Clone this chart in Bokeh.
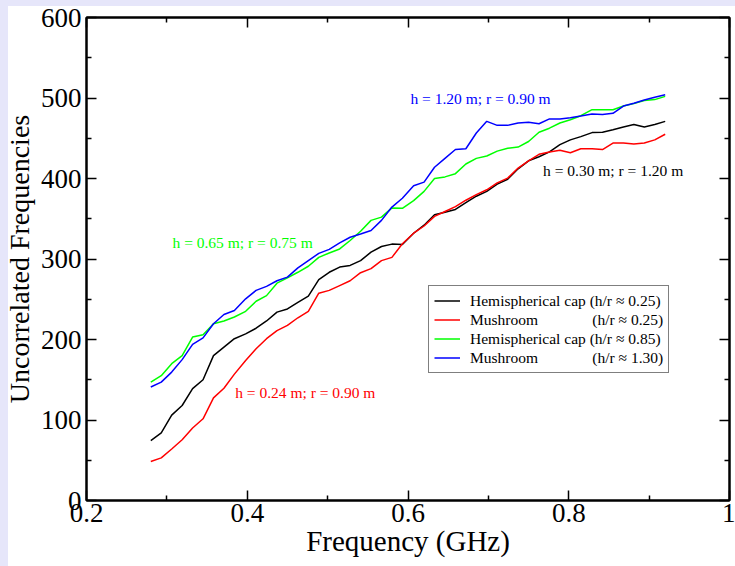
from bokeh.plotting import figure
from bokeh.models import (FixedTicker, LinearAxis, Legend, LegendItem, Label,
                          CustomJSTickFormatter, Range1d)
from bokeh.embed import file_html
from bokeh.resources import INLINE

# ---------------- data ----------------
freq = [0.280, 0.293, 0.306, 0.319, 0.332, 0.345, 0.358, 0.371, 0.384, 0.398,
        0.411, 0.424, 0.437, 0.450, 0.463, 0.476, 0.489, 0.502, 0.515, 0.528,
        0.541, 0.554, 0.567, 0.580, 0.593, 0.607, 0.620, 0.633, 0.646, 0.659,
        0.672, 0.685, 0.698, 0.711, 0.724, 0.737, 0.750, 0.763, 0.776, 0.789,
        0.802, 0.815, 0.829, 0.842, 0.855, 0.868, 0.881, 0.894, 0.907, 0.920]

hemi_025 = [74.5, 84, 106, 118, 139, 150, 180, 190.5, 201, 207,
            214, 223, 234, 238, 246, 254, 274.5, 283.5, 290, 292,
            298, 308.5, 315.5, 318.5, 318, 332, 342, 355, 358, 361.5,
            370, 378, 384, 393, 399, 412, 422, 427, 433, 442,
            448, 452, 457, 457.5, 460.5, 464, 467, 464, 467, 471]

mush_025 = [48.5, 53, 64, 75.5, 90, 101.5, 127.5, 139.5, 157, 174,
            188.5, 201, 211, 217.5, 227, 235, 257.5, 261, 267, 273,
            283, 288, 298, 302, 319, 332, 341, 353, 359, 365,
            373, 380, 386, 394.5, 400.5, 413, 422, 430, 433, 435,
            432, 437, 437, 436, 444, 444, 443, 444, 448, 455]

hemi_085 = [147, 155, 170, 180, 203, 206, 219.5, 223, 228, 235,
            247.5, 254.5, 270, 276.5, 283.5, 291, 302, 307.5, 312.5, 323,
            334.5, 348, 352, 363.5, 363, 372.5, 384, 400, 402, 406,
            418, 425, 428, 434, 437.5, 439, 446, 457.5, 462.5, 469,
            473, 478, 485.5, 485.5, 485.5, 490, 493, 497, 498, 502]

mush_130 = [141, 147, 159.5, 175, 194, 202, 219.5, 231, 236, 250.5,
            261, 266, 273, 277.5, 289, 298, 307, 312, 320, 327,
            331, 335.5, 348, 364.5, 375.5, 391, 395.5, 414, 425, 436,
            437, 456.5, 471, 466, 466, 469, 470, 468, 474, 474,
            475.5, 477.5, 480, 479.5, 481, 490, 493.5, 497.5, 501, 504]

NB = "\u00a0" * 14  # non-breaking spaces so "(h/r ...)" lines up in the legend
series_names = ["Hemispherical cap (h/r \u2248 0.25)",
                "Mushroom" + NB + "(h/r \u2248 0.25)",
                "Hemispherical cap (h/r \u2248 0.85)",
                "Mushroom" + NB + "(h/r \u2248 1.30)"]
series_colors = ["#000000", "#ff0000", "#00ff00", "#0000ff"]

x_major = [0.2, 0.4, 0.6, 0.8, 1.0]
x_minor = [0.3, 0.5, 0.7, 0.9]
y_major = [0, 100, 200, 300, 400, 500, 600]
y_minor = [50, 150, 250, 350, 450, 550]

annotations = [
    (0.603, 499, "h = 1.20 m; r = 0.90 m", "#0000ff"),
    (0.768, 410, "h = 0.30 m; r = 1.20 m", "#000000"),
    (0.307, 320, "h = 0.65 m; r = 0.75 m", "#00ff00"),
    (0.385, 134, "h = 0.24 m; r = 0.90 m", "#ff0000"),
]

FONT = "Liberation Serif"
SMALL = "15.5px"

# ---------------- figure ----------------
p = figure(width=735, height=566,
           x_range=Range1d(0.2, 1.0), y_range=Range1d(0, 600),
           output_backend="svg", toolbar_location=None,
           min_border_left=86, min_border_right=6,
           min_border_top=17, min_border_bottom=66)
p.grid.visible = False
p.outline_line_color = "black"
p.outline_line_width = 2
p.background_fill_color = "white"
p.border_fill_color = None
p.styles = {
    "background-color": "#ffffff",
    "background-image": ("linear-gradient(to right, #e6e6fa 8px, rgba(255,255,255,0) 8px), "
                         "linear-gradient(to bottom, #e6e6fa 6px, #ffffff 6px)"),
}

xfmt = CustomJSTickFormatter(code="return Math.abs(tick - 1) < 1e-9 ? '1' : tick.toFixed(1);")


def style_axis(ax, show_labels):
    ax.axis_line_color = "black"
    ax.axis_line_width = 2
    ax.major_tick_in = 10
    ax.major_tick_out = 0
    ax.minor_tick_in = 5
    ax.minor_tick_out = 0
    ax.major_tick_line_width = 1.5
    ax.minor_tick_line_width = 1.5
    ax.major_tick_line_color = "black"
    ax.minor_tick_line_color = "black"
    if show_labels:
        ax.major_label_text_font = FONT
        ax.major_label_text_font_size = "27px"
        ax.major_label_text_color = "black"
        ax.axis_label_text_font = FONT
        ax.axis_label_text_font_size = "28px"
        ax.axis_label_text_font_style = "normal"
        ax.axis_label_text_color = "black"
    else:
        ax.formatter = CustomJSTickFormatter(code="return '';")
        ax.major_label_standoff = 0
        ax.axis_label_standoff = 0
        ax.major_label_text_font_size = "1px"


xa = p.xaxis[0]
xa.ticker = FixedTicker(ticks=x_major, minor_ticks=x_minor)
xa.formatter = xfmt
xa.axis_label = "Frequency (GHz)"
style_axis(xa, True)
xa.axis_label_text_font_size = "29px"
xa.major_label_standoff = 3
xa.axis_label_standoff = 0

ya = p.yaxis[0]
ya.ticker = FixedTicker(ticks=y_major, minor_ticks=y_minor)
ya.axis_label = "Uncorrelated Frequencies"
style_axis(ya, True)
ya.major_label_standoff = 5
ya.axis_label_standoff = 3

top = LinearAxis(ticker=FixedTicker(ticks=x_major, minor_ticks=x_minor))
style_axis(top, False)
p.add_layout(top, "above")
right = LinearAxis(ticker=FixedTicker(ticks=y_major, minor_ticks=y_minor))
style_axis(right, False)
p.add_layout(right, "right")

# ---------------- lines ----------------
all_series = [hemi_025, mush_025, hemi_085, mush_130]
items = []
for ys, name, col in zip(all_series, series_names, series_colors):
    r = p.line(freq, ys, line_color=col, line_width=1.5)
    items.append(LegendItem(label=name, renderers=[r]))

legend = Legend(items=items, location=(342, 127))
legend.border_line_color = "black"
legend.border_line_width = 1
legend.background_fill_color = "white"
legend.background_fill_alpha = 1
legend.label_text_font = FONT
legend.label_text_font_size = SMALL
legend.label_text_color = "black"
legend.glyph_width = 26
legend.glyph_height = 19
legend.label_height = 19
legend.spacing = 0
legend.padding = 5
legend.margin = 0
legend.label_standoff = 10
p.add_layout(legend)

for ax_, ay_, txt, col in annotations:
    p.add_layout(Label(x=ax_, y=ay_, text=txt, text_color=col, text_font=FONT,
                       text_font_size=SMALL, text_baseline="middle"))

html = file_html(p, INLINE)
open("out.html", "w").write(html)
